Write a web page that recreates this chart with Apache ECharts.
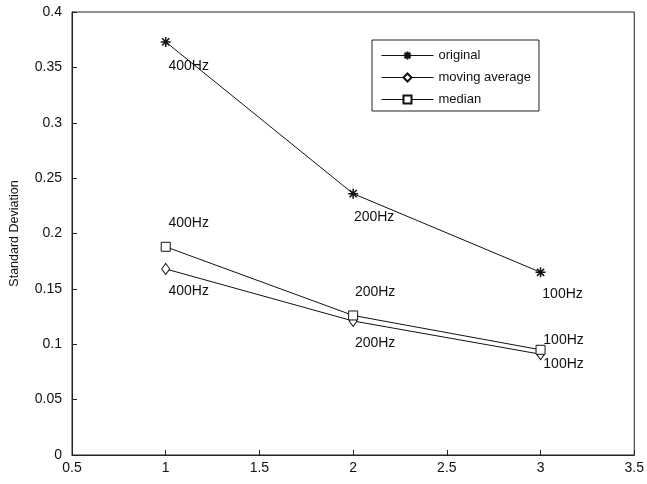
<!DOCTYPE html>
<html>
<head>
<meta charset="utf-8">
<script src="https://cdn.jsdelivr.net/npm/echarts@6/dist/echarts.min.js"></script>
<style>html,body{margin:0;padding:0;background:#fff}#c{width:647px;height:484px}</style>
</head>
<body>
<div id="c"></div>
<script>
var xValues = [1, 2, 3];
var freqLabels = ['400Hz', '200Hz', '100Hz'];
var originalValues = [0.373, 0.236, 0.165];
var movingAverageValues = [0.168, 0.121, 0.091];
var medianValues = [0.188, 0.126, 0.095];
var seriesNames = ['original', 'moving average', 'median'];

var FONT = '"Liberation Sans", Arial, sans-serif';
var starPath = 'path://M0,-5L0,5M-5,0L5,0M-3.6,-3.6L3.6,3.6M-3.6,3.6L3.6,-3.6';

function build(values, labelOffsets) {
  return values.map(function (v, i) {
    return {
      value: [xValues[i], v],
      label: {
        show: true,
        formatter: freqLabels[i],
        position: 'inside',
        offset: labelOffsets[i],
        color: '#111',
        fontFamily: FONT,
        fontSize: 14
      }
    };
  });
}

var chart = echarts.init(document.getElementById('c'), null, {renderer: 'canvas'});
chart.setOption({
  animation: false,
  backgroundColor: '#fff',
  grid: {left: 71, right: 12, top: 12, bottom: 29, show: true, borderColor: '#222', borderWidth: 1, containLabel: false},
  legend: {
    left: 372, top: 40,
    orient: 'vertical',
    data: seriesNames,
    backgroundColor: '#fff',
    borderColor: '#222', borderWidth: 1,
    padding: [9, 8, 5, 9],
    itemWidth: 52, itemHeight: 10, itemGap: 9,
    lineStyle: {width: 1},
    textStyle: {fontFamily: FONT, fontSize: 13, color: '#111', padding: [0, 0, 0, 0]}
  },
  xAxis: {
    type: 'value', min: 0.5, max: 3.5, interval: 0.5,
    axisLine: {show: true, lineStyle: {color: '#222'}},
    axisTick: {inside: true, length: 5, lineStyle: {color: '#222'}},
    splitLine: {show: false},
    axisLabel: {color: '#111', fontFamily: FONT, fontSize: 14, margin: 6}
  },
  yAxis: {
    type: 'value', min: 0, max: 0.4, interval: 0.05,
    name: 'Standard Deviation', nameLocation: 'middle', nameGap: 51,
    nameTextStyle: {fontFamily: FONT, fontSize: 12.5, color: '#111'},
    axisLine: {show: true, lineStyle: {color: '#222'}},
    axisTick: {inside: true, length: 5, lineStyle: {color: '#222'}},
    splitLine: {show: false},
    axisLabel: {color: '#111', fontFamily: FONT, fontSize: 14, margin: 10}
  },
  series: [
    {
      name: seriesNames[0], type: 'line',
      data: build(originalValues, [[23, 24], [21, 24], [22, 22]]),
      symbol: starPath, symbolSize: 10,
      lineStyle: {color: '#111', width: 1},
      itemStyle: {color: '#111', borderColor: '#111', borderWidth: 1.5}
    },
    {
      name: seriesNames[1], type: 'line',
      data: build(movingAverageValues, [[23, 22], [22, 22], [23, 10]]),
      symbol: 'diamond', symbolSize: [8, 11],
      lineStyle: {color: '#111', width: 1},
      itemStyle: {color: '#fff', borderColor: '#111', borderWidth: 1}
    },
    {
      name: seriesNames[2], type: 'line',
      data: build(medianValues, [[23, -24], [22, -23], [23, -10]]),
      symbol: 'rect', symbolSize: 9,
      lineStyle: {color: '#111', width: 1},
      itemStyle: {color: '#fff', borderColor: '#111', borderWidth: 1}
    }
  ]
});
</script>
</body>
</html>
